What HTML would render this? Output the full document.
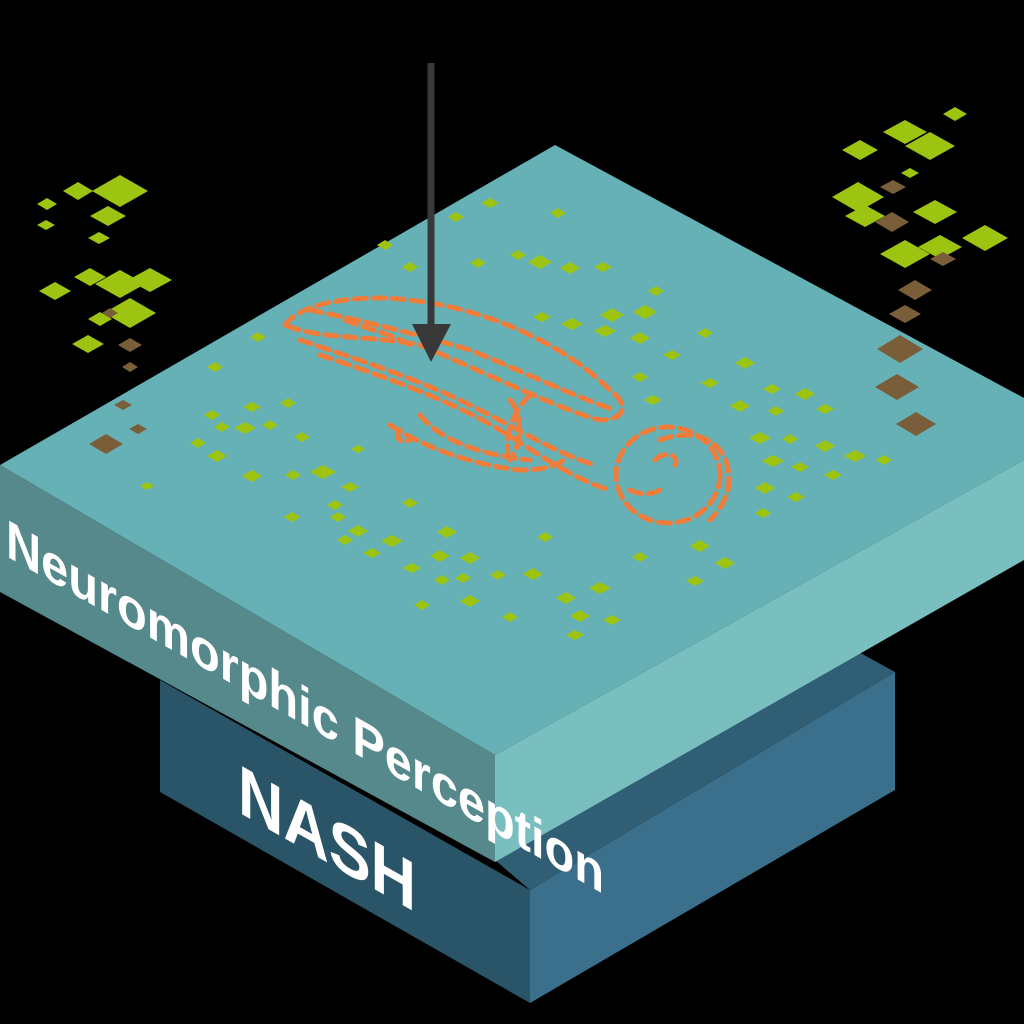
<!DOCTYPE html>
<html><head><meta charset="utf-8"><style>
html,body{margin:0;padding:0;background:#000;width:1024px;height:1024px;overflow:hidden}
svg{display:block}
</style></head><body>
<svg width="1024" height="1024" viewBox="0 0 1024 1024" xmlns="http://www.w3.org/2000/svg">
<rect width="1024" height="1024" fill="#000"/>
<!-- bottom block -->
<polygon points="160,680 530,890 530,1003 160,792" fill="#2a5467"/>
<polygon points="530,890 895,672 895,790 530,1003" fill="#3a708b"/>
<polygon points="495,860 855,650 895,672 530,890" fill="#305f75"/>
<text x="0" y="0" transform="translate(238,812) skewY(29.5)" font-family="Liberation Sans, sans-serif" font-weight="bold" font-size="70" fill="#fff" textLength="178" lengthAdjust="spacingAndGlyphs">NASH</text>
<!-- top slab -->
<polygon points="555,145 1024,398 1024,460 495,755 0,465" fill="#66b1b6"/>
<polygon points="0,465 495,755 495,862 0,592" fill="#56898b"/>
<polygon points="495,755 1024,460 1024,560 495,862" fill="#7abfc0"/>
<text x="0" y="0" transform="translate(6,556) skewY(29.5)" font-family="Liberation Sans, sans-serif" font-weight="bold" font-size="54" fill="#fff" textLength="598" lengthAdjust="spacingAndGlyphs">Neuromorphic Perception</text>
<!-- green diamonds -->
<g fill="#9ec412">
<path d="M120,175 l28,16 -28,16 -28,-16z"/><path d="M78,182 l15,9 -15,9 -15,-9z"/><path d="M47,198 l10,6 -10,6 -10,-6z"/><path d="M108,206 l18,10 -18,10 -18,-10z"/><path d="M99,232 l11,6 -11,6 -11,-6z"/><path d="M46,220 l9,5 -9,5 -9,-5z"/>
<path d="M120,270 l25,14 -25,14 -25,-14z"/><path d="M150,268 l22,12 -22,12 -22,-12z"/><path d="M90,268 l16,9 -16,9 -16,-9z"/><path d="M55,282 l16,9 -16,9 -16,-9z"/><path d="M130,298 l26,15 -26,15 -26,-15z"/><path d="M100,312 l12,7 -12,7 -12,-7z"/><path d="M88,335 l16,9 -16,9 -16,-9z"/>
<path d="M905,120 l22,12 -22,12 -22,-12z"/><path d="M930,132 l25,14 -25,14 -25,-14z"/><path d="M955,107 l12,7 -12,7 -12,-7z"/><path d="M860,140 l18,10 -18,10 -18,-10z"/><path d="M858,182 l26,15 -26,15 -26,-15z"/><path d="M865,205 l20,11 -20,11 -20,-11z"/><path d="M935,200 l22,12 -22,12 -22,-12z"/><path d="M985,225 l23,13 -23,13 -23,-13z"/><path d="M905,240 l25,14 -25,14 -25,-14z"/><path d="M940,235 l22,12 -22,12 -22,-12z"/><path d="M910,168 l9,5 -9,5 -9,-5z"/>
<path d="M540,255 l12,7 -12,7 -12,-7z"/><path d="M570,262 l10,6 -10,6 -10,-6z"/><path d="M603,262 l9,5 -9,5 -9,-5z"/><path d="M490,198 l9,5 -9,5 -9,-5z"/><path d="M456,212 l8,5 -8,5 -8,-5z"/><path d="M558,208 l8,5 -8,5 -8,-5z"/><path d="M410,262 l8,5 -8,5 -8,-5z"/><path d="M385,240 l8,5 -8,5 -8,-5z"/><path d="M478,258 l8,5 -8,5 -8,-5z"/><path d="M518,250 l8,5 -8,5 -8,-5z"/>
<path d="M612,308 l12,7 -12,7 -12,-7z"/><path d="M645,305 l12,7 -12,7 -12,-7z"/><path d="M572,318 l11,6 -11,6 -11,-6z"/><path d="M605,325 l11,6 -11,6 -11,-6z"/><path d="M542,312 l9,5 -9,5 -9,-5z"/><path d="M656,286 l8,5 -8,5 -8,-5z"/><path d="M705,328 l8,5 -8,5 -8,-5z"/><path d="M640,332 l10,6 -10,6 -10,-6z"/><path d="M672,350 l9,5 -9,5 -9,-5z"/><path d="M745,357 l10,6 -10,6 -10,-6z"/><path d="M710,378 l9,5 -9,5 -9,-5z"/><path d="M772,384 l9,5 -9,5 -9,-5z"/><path d="M805,388 l10,6 -10,6 -10,-6z"/><path d="M740,400 l10,6 -10,6 -10,-6z"/><path d="M776,406 l8,5 -8,5 -8,-5z"/><path d="M825,404 l9,5 -9,5 -9,-5z"/><path d="M760,432 l11,6 -11,6 -11,-6z"/><path d="M790,434 l8,5 -8,5 -8,-5z"/><path d="M825,440 l10,6 -10,6 -10,-6z"/><path d="M855,450 l11,6 -11,6 -11,-6z"/><path d="M884,455 l8,5 -8,5 -8,-5z"/><path d="M773,455 l11,6 -11,6 -11,-6z"/><path d="M800,462 l9,5 -9,5 -9,-5z"/><path d="M833,470 l9,5 -9,5 -9,-5z"/><path d="M765,482 l10,6 -10,6 -10,-6z"/><path d="M796,492 l9,5 -9,5 -9,-5z"/><path d="M763,508 l8,5 -8,5 -8,-5z"/><path d="M653,395 l9,5 -9,5 -9,-5z"/><path d="M640,372 l8,5 -8,5 -8,-5z"/>
<path d="M215,362 l8,5 -8,5 -8,-5z"/><path d="M258,332 l8,5 -8,5 -8,-5z"/><path d="M212,410 l8,5 -8,5 -8,-5z"/><path d="M245,422 l11,6 -11,6 -11,-6z"/><path d="M222,422 l8,5 -8,5 -8,-5z"/><path d="M270,420 l8,5 -8,5 -8,-5z"/><path d="M252,402 l9,5 -9,5 -9,-5z"/><path d="M288,398 l8,5 -8,5 -8,-5z"/><path d="M198,438 l8,5 -8,5 -8,-5z"/><path d="M217,450 l10,6 -10,6 -10,-6z"/><path d="M302,432 l8,5 -8,5 -8,-5z"/><path d="M252,470 l10,6 -10,6 -10,-6z"/><path d="M293,470 l8,5 -8,5 -8,-5z"/><path d="M323,465 l13,7 -13,7 -13,-7z"/><path d="M350,482 l9,5 -9,5 -9,-5z"/><path d="M358,445 l7,4 -7,4 -7,-4z"/><path d="M147,482 l7,4 -7,4 -7,-4z"/><path d="M292,512 l8,5 -8,5 -8,-5z"/><path d="M338,512 l8,5 -8,5 -8,-5z"/><path d="M358,525 l10,6 -10,6 -10,-6z"/><path d="M345,535 l8,5 -8,5 -8,-5z"/><path d="M392,535 l11,6 -11,6 -11,-6z"/><path d="M372,548 l9,5 -9,5 -9,-5z"/><path d="M410,498 l8,5 -8,5 -8,-5z"/><path d="M447,526 l10,6 -10,6 -10,-6z"/><path d="M440,550 l10,6 -10,6 -10,-6z"/><path d="M470,552 l10,6 -10,6 -10,-6z"/><path d="M412,563 l9,5 -9,5 -9,-5z"/><path d="M442,575 l8,5 -8,5 -8,-5z"/><path d="M463,573 l8,5 -8,5 -8,-5z"/><path d="M498,570 l8,5 -8,5 -8,-5z"/><path d="M533,568 l10,6 -10,6 -10,-6z"/><path d="M470,595 l10,6 -10,6 -10,-6z"/><path d="M422,600 l8,5 -8,5 -8,-5z"/><path d="M545,532 l8,5 -8,5 -8,-5z"/><path d="M566,592 l10,6 -10,6 -10,-6z"/><path d="M600,582 l11,6 -11,6 -11,-6z"/><path d="M580,610 l10,6 -10,6 -10,-6z"/><path d="M612,615 l9,5 -9,5 -9,-5z"/><path d="M575,630 l9,5 -9,5 -9,-5z"/><path d="M510,612 l8,5 -8,5 -8,-5z"/><path d="M640,552 l8,5 -8,5 -8,-5z"/><path d="M700,540 l10,6 -10,6 -10,-6z"/><path d="M725,557 l10,6 -10,6 -10,-6z"/><path d="M695,576 l9,5 -9,5 -9,-5z"/><path d="M335,500 l8,5 -8,5 -8,-5z"/>
</g>
<g fill="#7a5e3a">
<path d="M106,434 l17,10 -17,10 -17,-10z"/><path d="M138,424 l9,5 -9,5 -9,-5z"/><path d="M123,400 l9,5 -9,5 -9,-5z"/><path d="M130,338 l12,7 -12,7 -12,-7z"/><path d="M130,362 l8,5 -8,5 -8,-5z"/><path d="M110,308 l8,5 -8,5 -8,-5z"/>
<path d="M893,180 l13,7 -13,7 -13,-7z"/><path d="M892,212 l17,10 -17,10 -17,-10z"/><path d="M943,252 l13,7 -13,7 -13,-7z"/><path d="M915,280 l17,10 -17,10 -17,-10z"/><path d="M905,305 l16,9 -16,9 -16,-9z"/><path d="M900,335 l23,14 -23,14 -23,-14z"/><path d="M897,374 l22,13 -22,13 -22,-13z"/><path d="M916,412 l20,12 -20,12 -20,-12z"/>
</g>
<!-- orange dashed figure -->
<g fill="none" stroke="#f07c3c" stroke-width="5" stroke-dasharray="12 7" stroke-linecap="round">
<path d="M285,325 C300,305 340,298 380,298 C470,300 560,340 610,390 C630,405 625,420 600,420 C560,410 480,370 420,345 C370,335 320,340 285,325Z"/>
<path d="M300,340 C360,360 420,380 470,405 C520,430 560,455 595,465"/>
<path d="M320,355 C380,375 450,400 500,430 C540,455 575,480 610,490"/>
<path d="M310,310 C360,320 420,335 470,350 C520,370 570,395 615,410"/>
<path d="M345,320 C370,330 395,335 410,345"/>
<path d="M390,425 C420,445 470,465 520,470 C545,470 560,465 565,458"/>
<path d="M420,415 C440,440 480,455 530,460"/>
<path d="M510,400 C520,410 525,440 510,460"/>
<path d="M530,395 C515,410 505,430 508,455"/>
<ellipse cx="668" cy="475" rx="52" ry="48"/>
<path d="M660,440 C700,425 735,445 728,490 C724,505 715,515 710,520"/>
<path d="M655,460 C665,450 680,455 675,465"/>
<path d="M630,490 C640,495 650,495 660,490"/>
<path d="M400,430 C395,438 400,444 410,440"/>
</g>
<!-- arrow -->
<line x1="431" y1="63" x2="431" y2="330" stroke="#383838" stroke-width="7"/>
<polygon points="412,324 451,324 431,362" fill="#383838"/>
</svg>
</body></html>
